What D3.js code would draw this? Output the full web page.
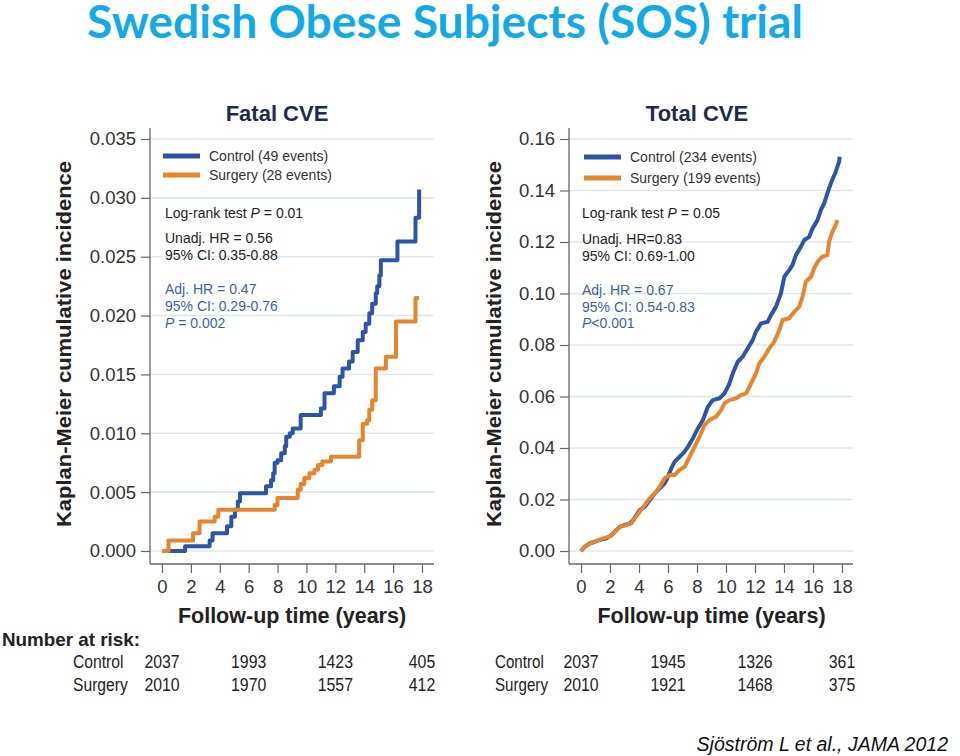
<!DOCTYPE html>
<html>
<head>
<meta charset="utf-8">
<script src="https://cdn.jsdelivr.net/npm/d3@7"></script>
<style>
  html, body { margin: 0; padding: 0; background: #fff; }
  svg { display: block; }
  text { font-family: "Liberation Sans", Arial, sans-serif; }
</style>
</head>
<body>
<svg id="chart" width="960" height="756"></svg>
<script>
// ---------- DATA ----------
const panelTitles = ["Fatal CVE", "Total CVE"];
const xTicks = [0, 2, 4, 6, 8, 10, 12, 14, 16, 18];
const fatalYTicks = [0, 0.005, 0.010, 0.015, 0.020, 0.025, 0.030, 0.035];
const totalYTicks = [0, 0.02, 0.04, 0.06, 0.08, 0.10, 0.12, 0.14, 0.16];

// Fatal CVE – Kaplan-Meier step points (years, cumulative incidence)
const fatalControlT = [0, 1.6, 3.3, 3.5, 4.5, 4.8, 5.05, 5.25, 5.4, 7.2, 7.55, 7.7, 7.8, 8.0, 8.25, 8.5, 8.6, 8.85, 9.05, 9.6, 11.0, 11.25, 11.9, 12.3, 12.5, 12.95, 13.2, 13.55, 13.9, 14.1, 14.35, 14.55, 14.8, 14.9, 15.05, 15.15, 16.3, 17.55, 17.8];
const fatalControlV = [0, 0.0004, 0.0009, 0.0015, 0.0021, 0.0029, 0.0035, 0.0042, 0.0049, 0.0055, 0.0060, 0.0066, 0.0075, 0.0077, 0.0083, 0.0089, 0.0097, 0.0100, 0.0104, 0.01155, 0.0121, 0.0134, 0.0140, 0.0148, 0.0155, 0.0161, 0.0169, 0.0179, 0.0186, 0.0193, 0.0202, 0.0210, 0.0219, 0.0225, 0.0234, 0.0247, 0.0263, 0.0283, 0.0307];
const fatalSurgeryT = [0, 0.45, 2.15, 2.6, 3.65, 3.9, 7.8, 8.0, 9.4, 9.6, 9.85, 10.2, 10.55, 10.8, 11.1, 11.7, 13.65, 13.9, 14.2, 14.35, 14.55, 14.8, 15.5, 16.2, 17.55, 17.8];
const fatalSurgeryV = [0, 0.0009, 0.0015, 0.0025, 0.0029, 0.0035, 0.0039, 0.0045, 0.0052, 0.0057, 0.0062, 0.0066, 0.0069, 0.0073, 0.0076, 0.0080, 0.0094, 0.0108, 0.0111, 0.0120, 0.0128, 0.0155, 0.0165, 0.0195, 0.0215, 0.0215];

// Total CVE
const totalControlT = [0, 0.27, 0.62, 0.96, 1.31, 1.76, 2.11, 2.45, 2.68, 3.02, 3.37, 3.6, 3.83, 4.05, 4.4, 4.74, 5.09, 5.43, 5.77, 6.0, 6.23, 6.46, 6.8, 7.15, 7.38, 7.72, 8.06, 8.41, 8.75, 9.09, 9.55, 9.9, 10.24, 10.47, 10.81, 11.16, 11.5, 11.84, 12.07, 12.42, 12.87, 13.1, 13.45, 13.79, 14.02, 14.36, 14.59, 14.82, 15.17, 15.4, 15.74, 15.97, 16.31, 16.54, 16.77, 16.99, 17.23, 17.57, 17.8, 17.84];
const totalControlV = [0, 0.0017, 0.0030, 0.0036, 0.0043, 0.0049, 0.0062, 0.0082, 0.0094, 0.0101, 0.0107, 0.0120, 0.0140, 0.0159, 0.0172, 0.0198, 0.0224, 0.0243, 0.0263, 0.0289, 0.0321, 0.0347, 0.0366, 0.0386, 0.0405, 0.0438, 0.0476, 0.0509, 0.0560, 0.0586, 0.0593, 0.0612, 0.0651, 0.0690, 0.0735, 0.0755, 0.0787, 0.0819, 0.0852, 0.0884, 0.0890, 0.0916, 0.0949, 0.1001, 0.1065, 0.1091, 0.1111, 0.1149, 0.1182, 0.1208, 0.1220, 0.1253, 0.1285, 0.1324, 0.1350, 0.1389, 0.1428, 0.1473, 0.1512, 0.1531];
const totalSurgeryT = [0, 0.39, 0.96, 1.53, 1.99, 2.34, 2.68, 3.14, 3.48, 3.71, 4.05, 4.4, 4.74, 5.09, 5.43, 5.77, 6.12, 6.46, 6.8, 7.15, 7.49, 7.84, 8.18, 8.52, 8.87, 9.33, 9.67, 9.9, 10.24, 10.7, 11.04, 11.39, 11.73, 12.07, 12.3, 12.65, 12.99, 13.33, 13.68, 13.9, 14.36, 14.71, 15.05, 15.28, 15.51, 15.86, 16.08, 16.31, 16.65, 16.99, 17.11, 17.34, 17.57, 17.68];
const totalSurgeryV = [0, 0.0023, 0.0036, 0.0049, 0.0056, 0.0075, 0.0094, 0.0101, 0.0107, 0.0127, 0.0153, 0.0179, 0.0205, 0.0224, 0.0250, 0.0282, 0.0295, 0.0295, 0.0315, 0.0327, 0.0366, 0.0405, 0.0444, 0.0489, 0.0509, 0.0522, 0.0548, 0.0573, 0.0586, 0.0593, 0.0606, 0.0612, 0.0651, 0.0690, 0.0729, 0.0755, 0.0787, 0.0813, 0.0858, 0.0897, 0.0904, 0.0929, 0.0949, 0.0987, 0.1046, 0.1065, 0.1098, 0.1123, 0.1143, 0.1149, 0.1201, 0.1240, 0.1266, 0.1285];

const legendFatal = ["Control (49 events)", "Surgery (28 events)"];
const legendTotal = ["Control (234 events)", "Surgery (199 events)"];
const statsFatal = ["Log-rank test |P| = 0.01", "Unadj. HR = 0.56", "95% CI: 0.35-0.88", "Adj. HR = 0.47", "95% CI: 0.29-0.76", "|P| = 0.002"];
const statsTotal = ["Log-rank test |P| = 0.05", "Unadj. HR=0.83", "95% CI: 0.69-1.00", "Adj. HR = 0.67", "95% CI: 0.54-0.83", "|P|<0.001"];

const riskYears = [0, 6, 12, 18];
const riskGroups = ["Control", "Surgery"];
const fatalRiskControl = [2037, 1993, 1423, 405];
const fatalRiskSurgery = [2010, 1970, 1557, 412];
const totalRiskControl = [2037, 1945, 1326, 361];
const totalRiskSurgery = [2010, 1921, 1468, 375];

// ---------- STYLE ----------
const BLUE = "#2d55a7";
const ORANGE = "#e5862f";
const STAT_BLUE = "#3f5f9e";
const GRID = "#dfe7ee";

const svg = d3.select("#chart");

// condense a text horizontally (narrow-font look)
function condense(sel, f) {
  sel.each(function () {
    const w = this.getComputedTextLength();
    d3.select(this).attr("textLength", w * f).attr("lengthAdjust", "spacingAndGlyphs");
  });
}

// Main title
svg.append("text")
  .attr("x", 87).attr("y", 38)
  .attr("textLength", 716).attr("lengthAdjust", "spacingAndGlyphs")
  .style("font-family", "Lato, 'Open Sans', sans-serif")
  .style("font-weight", "bold").style("font-size", "45px")
  .attr("fill", "#12aae6")
  .text("Swedish Obese Subjects (SOS) trial");

function panel(cfg) {
  const x = d3.scaleLinear().domain([0, 18]).range([cfg.x0, cfg.x1]);
  const y = d3.scaleLinear().domain([0, cfg.yMax]).range([551, 139]);
  const g = svg.append("g");

  // gridlines
  g.selectAll(".grid").data(cfg.yTicks).enter().append("line")
    .attr("x1", cfg.axisX).attr("x2", cfg.axisEnd)
    .attr("y1", d => y(d)).attr("y2", d => y(d))
    .attr("stroke", GRID).attr("stroke-width", 1.6);

  // y axis
  const ya = g.append("g").attr("transform", `translate(${cfg.axisX},0)`)
    .call(d3.axisLeft(y).tickValues(cfg.yTicks).tickFormat(d3.format(cfg.fmt)).tickSize(9).tickPadding(5));
  ya.select(".domain").remove();
  ya.selectAll(".tick line").attr("stroke", "#666").attr("stroke-width", 1.2);
  ya.selectAll(".tick text").style("font-size", "18.5px").attr("fill", "#333")
    .style("font-family", "'Liberation Sans', Arial, sans-serif");

  // x axis
  const xa = g.append("g").attr("transform", `translate(0,564)`)
    .call(d3.axisBottom(x).tickValues(xTicks).tickSize(9).tickPadding(7));
  xa.select(".domain").remove();
  xa.selectAll(".tick line").attr("stroke", "#666").attr("stroke-width", 1.2);
  xa.selectAll(".tick text").style("font-size", "18.5px").attr("fill", "#333")
    .style("font-family", "'Liberation Sans', Arial, sans-serif");

  // axis lines
  g.append("line").attr("x1", cfg.axisX).attr("x2", cfg.axisX).attr("y1", 128).attr("y2", 564)
    .attr("stroke", "#666").attr("stroke-width", 1.3);
  g.append("line").attr("x1", cfg.axisX).attr("x2", cfg.axisEnd).attr("y1", 564).attr("y2", 564)
    .attr("stroke", "#666").attr("stroke-width", 1.3);

  // panel title
  g.append("text").attr("x", cfg.titleX).attr("y", 121).attr("text-anchor", "middle")
    .style("font-size", "22px").style("font-weight", "bold").attr("fill", "#1f2b4a")
    .text(cfg.title);

  // y axis title
  g.append("text")
    .attr("transform", `translate(${cfg.yTitleX},344) rotate(-90)`)
    .attr("text-anchor", "middle").attr("dy", "0.36em")
    .attr("textLength", 366).attr("lengthAdjust", "spacingAndGlyphs")
    .style("font-size", "20px").style("font-weight", "bold").attr("fill", "#222")
    .text("Kaplan-Meier cumulative incidence");

  // x axis title
  g.append("text").attr("x", (cfg.x0 + cfg.x1) / 2).attr("y", 623).attr("text-anchor", "middle")
    .style("font-size", "21.5px").style("font-weight", "bold").attr("fill", "#222")
    .text("Follow-up time (years)");

  // curves
  const line = d3.line().x(d => x(d[0])).y(d => y(d[1])).curve(cfg.curve);
  const ctrl = d3.zip(cfg.ctrlT, cfg.ctrlV);
  const surg = d3.zip(cfg.surgT, cfg.surgV);
  g.append("path").datum(ctrl).attr("d", line).attr("fill", "none")
    .attr("stroke", BLUE).attr("stroke-width", 4).attr("stroke-linejoin", "round");
  g.append("path").datum(surg).attr("d", line).attr("fill", "none")
    .attr("stroke", ORANGE).attr("stroke-width", 4).attr("stroke-linejoin", "round");

  // legend
  const lx = cfg.legendX;
  [BLUE, ORANGE].forEach((c, i) => {
    const ly = cfg.legendY[i];
    g.append("line").attr("x1", lx).attr("x2", lx + 37).attr("y1", ly).attr("y2", ly)
      .attr("stroke", c).attr("stroke-width", 5);
    g.append("text").attr("x", lx + 46).attr("y", ly + 5)
      .style("font-size", "14px").attr("fill", "#333").text(cfg.legend[i]);
  });

  // statistics
  cfg.stats.forEach((s, i) => {
    const t = g.append("text").attr("x", cfg.statX).attr("y", cfg.statY[i])
      .style("font-size", "14px").attr("fill", i < 3 ? "#222" : STAT_BLUE);
    s.split("|").forEach((part, k) => {
      t.append("tspan").style("font-style", k % 2 === 1 ? "italic" : "normal").text(part);
    });
  });

  // number at risk
  const rows = [cfg.riskC, cfg.riskS];
  rows.forEach((vals, r) => {
    const ry = 668 + r * 23;
    g.append("text").attr("x", cfg.riskLabelX).attr("y", ry)
      .style("font-size", "18px").attr("fill", "#222").text(riskGroups[r])
      .call(condense, cfg.labelSquash);
    g.selectAll(null).data(vals).enter().append("text")
      .attr("x", (d, i) => x(riskYears[i])).attr("y", ry).attr("text-anchor", "middle")
      .style("font-size", "18px").attr("fill", "#222").text(d => d)
      .call(condense, 0.88);
  });
}

panel({
  title: panelTitles[0], titleX: 277, x0: 162, x1: 422, axisX: 150, axisEnd: 434,
  yMax: 0.035, yTicks: fatalYTicks, fmt: ".3f", yTitleX: 64,
  curve: d3.curveStepAfter,
  ctrlT: fatalControlT, ctrlV: fatalControlV, surgT: fatalSurgeryT, surgV: fatalSurgeryV,
  legend: legendFatal, legendX: 163, legendY: [156, 175],
  stats: statsFatal, statX: 165, statY: [218, 243, 260, 294, 311, 328],
  riskC: fatalRiskControl, riskS: fatalRiskSurgery, riskLabelX: 73, labelSquash: 0.87
});

panel({
  title: panelTitles[1], titleX: 697, x0: 581, x1: 842, axisX: 569, axisEnd: 853,
  yMax: 0.16, yTicks: totalYTicks, fmt: ".2f", yTitleX: 494,
  curve: d3.curveLinear,
  ctrlT: totalControlT, ctrlV: totalControlV, surgT: totalSurgeryT, surgV: totalSurgeryV,
  legend: legendTotal, legendX: 584, legendY: [157, 178],
  stats: statsTotal, statX: 582, statY: [218, 244, 261, 295, 312, 328],
  riskC: totalRiskControl, riskS: totalRiskSurgery, riskLabelX: 495, labelSquash: 0.84
});

// Number at risk heading
svg.append("text").attr("x", 2).attr("y", 646)
  .attr("textLength", 138).attr("lengthAdjust", "spacingAndGlyphs")
  .style("font-size", "19px").style("font-weight", "bold").attr("fill", "#222")
  .text("Number at risk:");

// Citation
svg.append("text").attr("x", 948).attr("y", 751).attr("text-anchor", "end")
  .style("font-size", "19.5px").style("font-style", "italic").attr("fill", "#111")
  .text("Sjöström L et al., JAMA 2012");
</script>
</body>
</html>
